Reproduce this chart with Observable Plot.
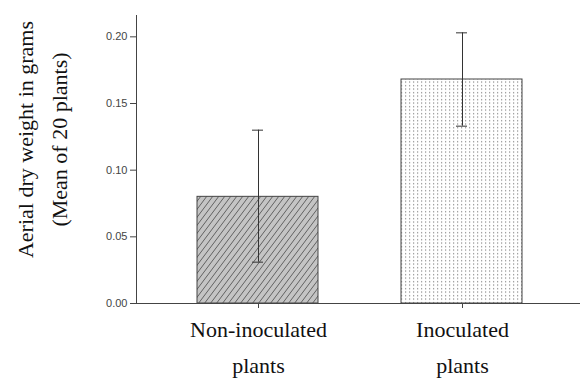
<!DOCTYPE html>
<html><head><meta charset="utf-8">
<script src="https://cdn.jsdelivr.net/npm/d3@7"></script>
<script src="https://cdn.jsdelivr.net/npm/@observablehq/plot@0.6"></script>
<style>
body{margin:0;background:#fff}
#chart g[aria-label="text"] text,
#chart g[aria-label="x-axis tick label"] text,
#chart g[aria-label="x-axis tick label"] {font-family: "Liberation Serif", "Times New Roman", serif !important;}
#chart g[aria-label="y-axis tick label"] {font-family: "Liberation Sans", Arial, sans-serif !important;}
</style>
</head><body><div id="chart"></div>
<script>
const groups = ["Non-inoculated\nplants", "Inoculated\nplants"];
const means = [0.080, 0.168];
const lows = [0.031, 0.133];
const highs = [0.130, 0.203];
const fills = ["url(#hatch)", "url(#dots)"];
const yTicks = [0, 0.05, 0.10, 0.15, 0.20];
const yLabel1 = "Aerial dry weight in grams";
const yLabel2 = "(Mean of 20 plants)";

const data = groups.map((g, i) => ({g, mean: means[i], lo: lows[i], hi: highs[i], fill: fills[i]}));
const serif = "Liberation Serif";

const plot = Plot.plot({
  width: 580, height: 378,
  marginLeft: 136, marginRight: 0, marginTop: 15, marginBottom: 75,
  style: {color: "#444"},
  x: {domain: groups, range: [156, 564], padding: 0},
  y: {domain: [0, 0.216]},
  marks: [
    Plot.barY(data, {x: "g", y: "mean", fill: d => d.fill, stroke: "#444", strokeWidth: 1, insetLeft: 41, insetRight: 42}),
    Plot.ruleX(data, {x: "g", y1: "lo", y2: "hi", stroke: "#333", strokeWidth: 1}),
    Plot.tickY(data, {x: "g", y: "lo", stroke: "#333", insetLeft: 96, insetRight: 97}),
    Plot.tickY(data, {x: "g", y: "hi", stroke: "#333", insetLeft: 96, insetRight: 97}),
    Plot.ruleY([0], {stroke: "#444"}),
    Plot.frame({anchor: "left", stroke: "#444"}),
    Plot.axisY({ticks: yTicks, tickFormat: d3.format(".2f"), tickSize: 6, tickPadding: 3, fontSize: 11, fontFamily: "Liberation Sans", label: null, stroke: "#444", fill: "#444"}),
    Plot.axisX({tickSize: 5, tickPadding: 4, fontSize: 22, fontFamily: serif, lineHeight: 1.6, label: null, fill: "#111", stroke: "#444"}),
    Plot.text([yLabel1], {
      text: d => d, frameAnchor: "left", rotate: -90, textAnchor: "middle",
      dx: -111, dy: -20,
      fontSize: 22, fontFamily: serif, fill: "#111"
    }),
    Plot.text([yLabel2], {
      text: d => d, frameAnchor: "left", rotate: -90, textAnchor: "middle",
      dx: -77, dy: -20,
      fontSize: 22, fontFamily: serif, fill: "#111"
    })
  ]
});

// pattern definitions for the bar fills
const ns = "http://www.w3.org/2000/svg";
const defs = document.createElementNS(ns, "defs");
defs.innerHTML = `
<pattern id="hatch" patternUnits="userSpaceOnUse" width="6" height="8">
  <rect width="6" height="8" fill="#c4c4c4"/>
  <path d="M-1.5,10 L7.5,-2 M-7.5,10 L1.5,-2 M4.5,10 L13.5,-2" stroke="#555" stroke-width="0.9"/>
</pattern>
<pattern id="dots" patternUnits="userSpaceOnUse" width="4" height="3.5">
  <rect width="4" height="3.5" fill="#fff"/>
  <rect x="1" y="1" width="1.2" height="1.2" fill="#888"/>
</pattern>`;
plot.insertBefore(defs, plot.firstChild);
document.getElementById("chart").appendChild(plot);
</script>
</body></html>
